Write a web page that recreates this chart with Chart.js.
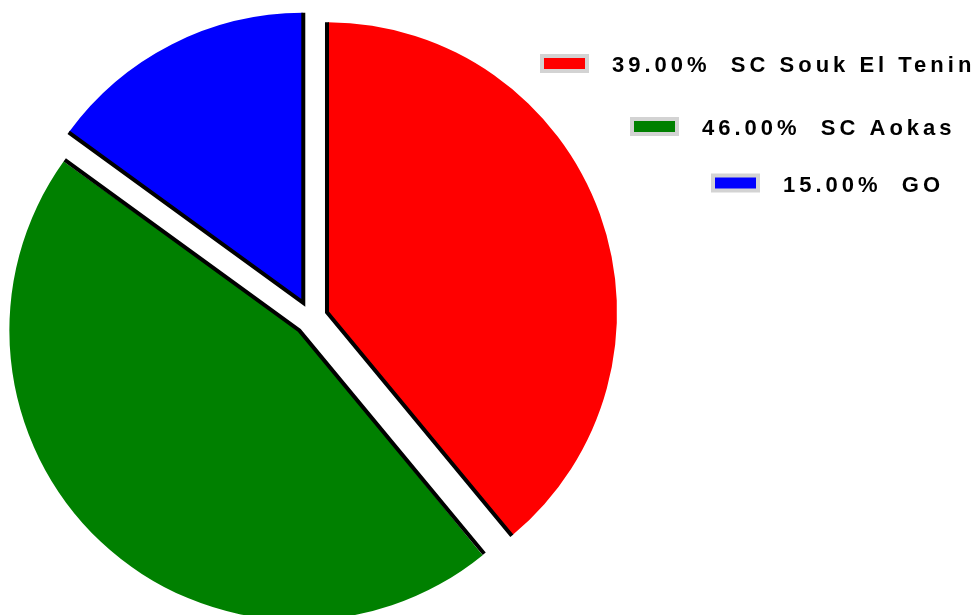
<!DOCTYPE html>
<html>
<head>
<meta charset="utf-8">
<script src="https://cdn.jsdelivr.net/npm/chart.js@4"></script>
<style>
  html, body { margin: 0; padding: 0; background: #fff; overflow: hidden; }
</style>
</head>
<body>
<canvas id="pieChart" width="972" height="615"></canvas>
<script>
const teams = ['SC Souk El Tenine', 'SC Aokas', 'GO'];
const shares = [39, 46, 15];
const sliceColors = ['#ff0000', '#008000', '#0000ff'];

const pieRadius = 290;
const legendRowLeft = [540, 630, 711];
const legendRowY = [63.5, 126.5, 183];

// radius growth that Chart.js adds to an offset arc
function offsetGrowth(arc) {
    const off = (arc.options.offset || 0) / 4;
    return off * (1 - Math.sin(Math.min(Math.PI, arc.circumference)));
}

// keep every exploded slice on the same outer radius
const evenRadius = {
    id: 'evenRadius',
    beforeDatasetsDraw(chart) {
        chart.getDatasetMeta(0).data.forEach(arc => {
            arc.outerRadius = pieRadius - offsetGrowth(arc);
        });
    }
};

// black rules along the straight (radial) edges of every slice
const edgeLines = {
    id: 'edgeLines',
    afterDatasetsDraw(chart) {
        const ctx = chart.ctx;
        chart.getDatasetMeta(0).data.forEach(arc => {
            const off = (arc.options.offset || 0) / 4;
            const mid = (arc.startAngle + arc.endAngle) / 2;
            const cx = arc.x + Math.cos(mid) * off;
            const cy = arc.y + Math.sin(mid) * off;
            const r = arc.outerRadius + offsetGrowth(arc);
            ctx.save();
            ctx.strokeStyle = '#000';
            ctx.lineWidth = 4;
            ctx.lineJoin = 'miter';
            ctx.beginPath();
            ctx.moveTo(cx + Math.cos(arc.startAngle) * r, cy + Math.sin(arc.startAngle) * r);
            ctx.lineTo(cx, cy);
            ctx.lineTo(cx + Math.cos(arc.endAngle) * r, cy + Math.sin(arc.endAngle) * r);
            ctx.stroke();
            ctx.restore();
        });
    }
};

// legend rows: grey framed colour box, then share and team name
const sideLegend = {
    id: 'sideLegend',
    afterDraw(chart) {
        const ctx = chart.ctx;
        ctx.save();
        ctx.font = 'bold 22px "Liberation Sans", Arial, sans-serif';
        ctx.textBaseline = 'middle';
        ctx.letterSpacing = '4px';
        teams.forEach((name, i) => {
            const text = shares[i].toFixed(2) + '%  ' + name;
            const x = legendRowLeft[i];
            const y = legendRowY[i];
            ctx.fillStyle = sliceColors[i];
            ctx.fillRect(x + 2, y - 7.5, 45, 15);
            ctx.strokeStyle = '#d3d3d3';
            ctx.lineWidth = 4;
            ctx.strokeRect(x + 2, y - 7.5, 45, 15);
            ctx.fillStyle = '#000';
            ctx.fillText(text, x + 72, y + 2.5);
        });
        ctx.restore();
    }
};

new Chart(document.getElementById('pieChart'), {
    type: 'pie',
    data: {
        labels: teams,
        datasets: [{
            data: shares,
            backgroundColor: sliceColors,
            borderWidth: 0,
            offset: 68
        }]
    },
    options: {
        responsive: false,
        animation: false,
        events: [],
        radius: pieRadius,
        layout: { padding: { top: 21, right: 350, bottom: 0, left: 0 } },
        plugins: {
            legend: { display: false },
            tooltip: { enabled: false }
        }
    },
    plugins: [evenRadius, edgeLines, sideLegend]
});
</script>
</body>
</html>
